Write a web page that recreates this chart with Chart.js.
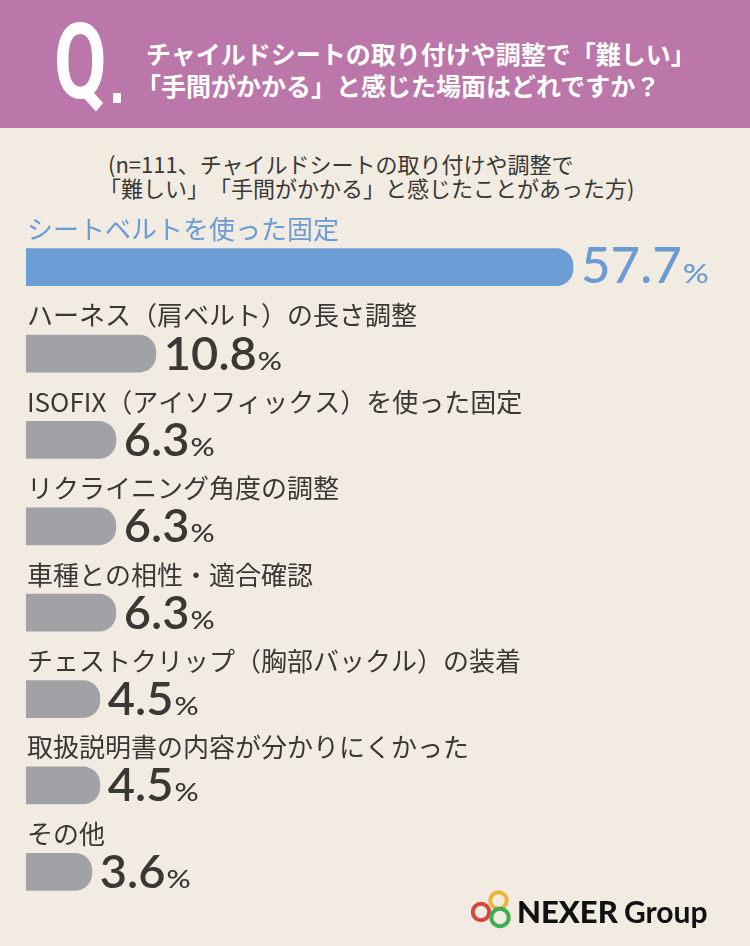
<!DOCTYPE html>
<html><head><meta charset="utf-8">
<script src="https://cdn.jsdelivr.net/npm/chart.js@4.4.1/dist/chart.umd.min.js"></script>
<style>
html,body{margin:0;padding:0;}
body{width:750px;height:946px;background:#f1ebe2;position:relative;overflow:hidden;font-family:"Noto Sans CJK JP",sans-serif;text-spacing-trim:space-all;}
#hdr{position:absolute;left:0;top:0;width:750px;height:128px;background:#bb77aa;}
#q{position:absolute;left:54px;top:9px;color:#fff;font-family:Roboto,sans-serif;font-weight:700;font-size:106px;line-height:106px;transform:scaleX(0.72);transform-origin:left top;}
#qdot{position:absolute;left:113px;top:93px;width:8px;height:10px;background:#fff;}
.ht{position:absolute;color:#fff;font-weight:700;font-size:25px;line-height:30px;white-space:nowrap;}
.st{position:absolute;color:#3a3835;font-size:22px;line-height:26px;white-space:nowrap;}
#cv{position:absolute;left:0;top:0;}
#logo{position:absolute;left:466px;top:884px;}
</style></head>
<body>
<div id="hdr">
  <div id="q">Q</div><div id="qdot"></div>
  <div class="ht" style="top:38px;left:146px">チャイルドシートの取り付けや調整で「難しい」</div>
  <div class="ht" style="top:70px;left:136px">「手間がかかる」と感じた場面はどれですか？</div>
</div>
<div class="st" style="top:150px;left:108px">(n=111、チャイルドシートの取り付けや調整で</div>
<div class="st" style="top:174px;left:99px">「難しい」「手間がかかる」と感じたことがあった方)</div>
<canvas id="cv" width="750" height="946"></canvas>
<svg id="logo" width="260" height="52" viewBox="0 0 260 52">
  <circle cx="32.5" cy="16.5" r="8.2" fill="none" stroke="#e8b73a" stroke-width="4"/>
  <circle cx="15" cy="28" r="8.2" fill="none" stroke="#d8473d" stroke-width="4"/>
  <circle cx="34" cy="33.5" r="8.7" fill="none" stroke="#3fae52" stroke-width="4"/>
  <text x="51" y="39" font-family="Lato, sans-serif" font-weight="900" font-size="31" fill="#111">NEXER</text>
  <text x="158" y="39" font-family="Lato, sans-serif" font-weight="700" font-size="30" fill="#111">Group</text>
</svg>
<script>
const categories = [
  "シートベルトを使った固定",
  "ハーネス（肩ベルト）の長さ調整",
  "ISOFIX（アイソフィックス）を使った固定",
  "リクライニング角度の調整",
  "車種との相性・適合確認",
  "チェストクリップ（胸部バックル）の装着",
  "取扱説明書の内容が分かりにくかった",
  "その他"
];
const values = [57.7, 10.8, 6.3, 6.3, 6.3, 4.5, 4.5, 3.6];
const unit = "%";

const BLUE = "#6c9dd4";
const BLUE_TXT = "#6b9bd3";
const GRAY = "#a1a2a5";
const DARK = "#3a3835";
const AXIS_MIN = -3.8;

const labelPlugin = {
  id: "barLabels",
  afterDatasetsDraw(chart) {
    const ctx = chart.ctx;
    const meta = chart.getDatasetMeta(0);
    meta.data.forEach((bar, i) => {
      const col = i === 0 ? BLUE_TXT : DARK;
      ctx.save();
      ctx.fillStyle = col;
      ctx.font = '400 26px "Noto Sans CJK JP"';
      ctx.textBaseline = "middle";
      ctx.textAlign = "left";
      ctx.fillText(categories[i], chart.chartArea.left + 1, bar.y - 38);
      const s = values[i].toFixed(1);
      ctx.textBaseline = "alphabetic";
      ctx.font = (i === 0 ? "500 51px" : "600 47px") + " Lato";
      const x0 = bar.x + 8, yb = bar.y + 16;
      ctx.fillText(s, x0, yb);
      const w = ctx.measureText(s).width;
      ctx.font = (i === 0 ? "500 27px" : "500 25px") + " Lato";
      ctx.translate(x0 + w + 1, yb);
      ctx.scale(1.2, 1);
      ctx.fillText(unit, 0, 0);
      ctx.restore();
    });
  }
};

new Chart(document.getElementById("cv"), {
  type: "bar",
  data: {
    labels: categories,
    datasets: [{
      data: values,
      base: AXIS_MIN,
      backgroundColor: values.map((v, i) => i === 0 ? BLUE : GRAY),
      borderWidth: 0,
      borderRadius: 17,
      barThickness: 37
    }]
  },
  options: {
    indexAxis: "y",
    responsive: false,
    animation: false,
    devicePixelRatio: 1,
    layout: { padding: { left: 26, right: 0, top: 224, bottom: 31 } },
    plugins: { legend: { display: false }, tooltip: { enabled: false } },
    scales: {
      x: { type: "linear", min: AXIS_MIN, max: 77.6, display: false },
      y: { type: "category", display: false, offset: true }
    }
  },
  plugins: [labelPlugin]
});
</script>
</body></html>
